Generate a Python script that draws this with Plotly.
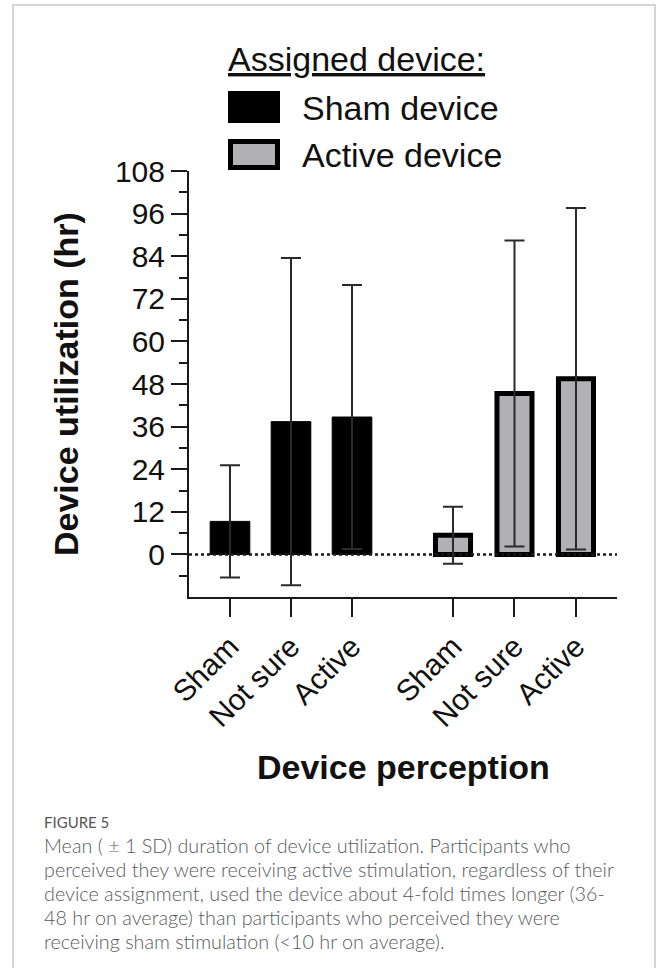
import plotly.graph_objects as go
from plotly.subplots import make_subplots

# ---- data ----
perception = ["Sham", "Not sure", "Active"]
sham_device_mean = [9.3, 37.4, 38.7]
sham_device_sd = [15.8, 46.1, 37.2]
active_device_mean = [5.4, 45.3, 49.5]
active_device_sd = [8.0, 43.1, 48.1]
y_tick_vals = [0, 12, 24, 36, 48, 60, 72, 84, 96, 108]
y_tick_text = ["0", "12", "24", "36", "48", "60", "72", "84", "96", "108"]
legend_title = "Assigned device:"
legend_names = ["Sham device", "Active device"]
x_title = "Device perception"
y_title = "Device utilization (hr)"
caption_head = "FIGURE 5"
caption_lines = [
    "Mean ( ± 1 SD) duration of device utilization. Participants who",
    "perceived they were receiving active stimulation, regardless of their",
    "device assignment, used the device about 4-fold times longer (36-",
    "48 hr on average) than participants who perceived they were",
    "receiving sham stimulation (<10 hr on average).",
]

# ---- geometry (pixels) ----
FW, FH = 658, 968
L, R, T, B = 189, 617, 171, 597
PW, PH = R - L, B - T


def px(x):
    return (x - L) / PW


def py(y):
    return (B - y) / PH


FONT = "Liberation Sans, Arial, sans-serif"
INK = "#1a1a1a"
GREY = "#b1b1b3"

fig = make_subplots(rows=1, cols=2, shared_yaxes=True, horizontal_spacing=0)

err_style = dict(type="data", visible=True, color="#2a2a2a", thickness=2, width=10)

fig.add_trace(go.Bar(
    x=perception, y=sham_device_mean, name=legend_names[0],
    marker=dict(color="#000000", line=dict(color="#000000", width=1)),
    width=0.65,
    error_y=dict(array=sham_device_sd, **err_style),
    showlegend=False,
), row=1, col=1)

fig.add_trace(go.Bar(
    x=perception, y=active_device_mean, name=legend_names[1],
    marker=dict(color=GREY, line=dict(color="#000000", width=5)),
    width=0.57,
    error_y=dict(array=active_device_sd, **err_style),
    showlegend=False,
), row=1, col=2)

xaxis_common = dict(
    type="category", showline=True, linewidth=2, linecolor=INK,
    ticks="outside", ticklen=18, tickwidth=2, tickcolor=INK,
    tickangle=-45, tickfont=dict(family=FONT, size=30, color="#111"),
    showgrid=False, zeroline=False, fixedrange=True,
)
fig.update_xaxes(range=[-0.672, 2.836], **xaxis_common, row=1, col=1)
fig.update_xaxes(range=[-0.813, 2.667], **xaxis_common, row=1, col=2)

fig.update_yaxes(
    range=[-12, 108], tickmode="array", tickvals=y_tick_vals, ticktext=y_tick_text,
    showline=True, linewidth=2, linecolor=INK,
    ticks="outside", ticklen=16, tickwidth=2, tickcolor=INK,
    tickfont=dict(family=FONT, size=30, color="#111"),
    minor=dict(tickmode="linear", tick0=-6, dtick=12, ticks="outside",
               ticklen=8, tickwidth=2, tickcolor=INK),
    showgrid=False, zeroline=False, fixedrange=True, row=1, col=1,
)
fig.update_yaxes(showline=False, ticks="", showticklabels=False,
                 showgrid=False, zeroline=False, row=1, col=2)

shapes = []
# dotted zero line
shapes.append(dict(type="line", xref="paper", yref="y", x0=0, x1=1, y0=0, y1=0,
                   line=dict(color=INK, width=2.5, dash="dot"), layer="above"))
# card border
shapes.append(dict(type="rect", xref="paper", yref="paper",
                   x0=px(13), x1=px(655), y0=py(975), y1=py(5),
                   line=dict(color="#c8c8c8", width=1.5), layer="below"))
# legend swatches
shapes.append(dict(type="rect", xref="paper", yref="paper",
                   x0=px(228), x1=px(280), y0=py(123), y1=py(91),
                   fillcolor="#000000", line=dict(color="#000000", width=0)))
shapes.append(dict(type="rect", xref="paper", yref="paper",
                   x0=px(230.5), x1=px(277.5), y0=py(167.5), y1=py(141.5),
                   fillcolor=GREY, line=dict(color="#000000", width=5)))

annotations = []
annotations.append(dict(text="<u>" + legend_title + "</u>", xref="paper", yref="paper",
                        x=px(226), y=py(59), xanchor="left", yanchor="middle",
                        showarrow=False, font=dict(family=FONT, size=34, color="#111")))
annotations.append(dict(text=legend_names[0], xref="paper", yref="paper",
                        x=px(300), y=py(108), xanchor="left", yanchor="middle",
                        showarrow=False, font=dict(family=FONT, size=34, color="#111")))
annotations.append(dict(text=legend_names[1], xref="paper", yref="paper",
                        x=px(300), y=py(155), xanchor="left", yanchor="middle",
                        showarrow=False, font=dict(family=FONT, size=34, color="#111")))
annotations.append(dict(text="<b>" + y_title + "</b>", xref="paper", yref="paper",
                        x=px(66), y=py(384), xanchor="center", yanchor="middle",
                        textangle=-90, showarrow=False,
                        font=dict(family=FONT, size=34, color="#111")))
annotations.append(dict(text="<b>" + x_title + "</b>", xref="paper", yref="paper",
                        x=px(403), y=py(767), xanchor="center", yanchor="middle",
                        showarrow=False, font=dict(family=FONT, size=34, color="#111")))
annotations.append(dict(text=caption_head, xref="paper", yref="paper",
                        x=px(42), y=py(822), xanchor="left", yanchor="middle",
                        showarrow=False,
                        font=dict(family="Lato, sans-serif", size=15, color="#555")))
cap_y = [845, 869, 893, 917, 941]
for line, yy in zip(caption_lines, cap_y):
    annotations.append(dict(text=line, xref="paper", yref="paper",
                            x=px(42), y=py(yy), xanchor="left", yanchor="middle",
                            showarrow=False,
                            font=dict(family="Lato, sans-serif", size=19.75,
                                      color="#5a5a5a", weight=300)))

fig.update_layout(
    width=FW, height=FH,
    margin=dict(l=L, r=FW - R, t=T, b=FH - B, pad=0),
    paper_bgcolor="white", plot_bgcolor="white",
    barmode="overlay",
    shapes=shapes, annotations=annotations,
    showlegend=False,
)

fig.write_html("out.html", config={"displayModeBar": False},
               post_script="document.body.style.margin='0';")
